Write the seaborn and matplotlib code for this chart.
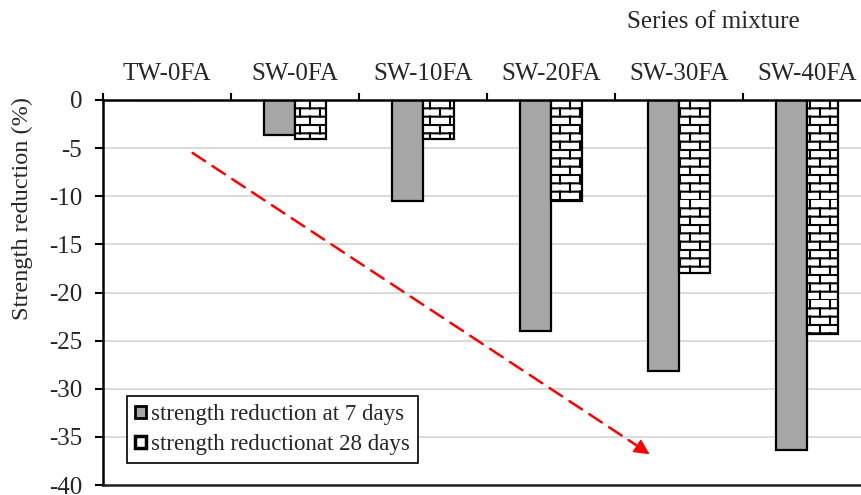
import warnings
import numpy as np
import pandas as pd
import matplotlib
matplotlib.use('Agg')
import matplotlib.pyplot as plt
import matplotlib.hatch as mhatch
from matplotlib.path import Path
from matplotlib.patches import Patch
import seaborn as sns

warnings.filterwarnings('ignore')

# data
mixtures = ['TW-0FA', 'SW-0FA', 'SW-10FA', 'SW-20FA', 'SW-30FA', 'SW-40FA']
red_7d = [0.0, -3.6, -10.5, -24.0, -28.2, -36.4]
red_28d = [0.0, -4.0, -4.1, -10.5, -18.0, -24.3]
series = ['strength reduction at 7 days', 'strength reductionat 28 days']


# brick hatch ('b') - staggered bricks
class BrickHatch(mhatch.HatchPatternBase):
    def __init__(self, hatch, density):
        self.rows = 12 if 'b' in hatch else 0
        self.cols = 5
        self.num_vertices = (self.rows + self.rows * (self.cols + 1)) * 2

    def set_vertices_and_codes(self, vertices, codes):
        v = []
        h = 1.0 / self.rows
        for k in range(self.rows):
            v += [(0.0, k * h), (1.0, k * h)]
            off = 0.0 if k % 2 == 0 else 0.5
            for j in range(self.cols + 1):
                x = (j + off) / self.cols
                v += [(x, k * h), (x, (k + 1) * h)]
        vertices[:] = np.array(v)
        codes[0::2] = Path.MOVETO
        codes[1::2] = Path.LINETO


mhatch._hatch_types.append(BrickHatch)

df = pd.DataFrame({
    'mixture': mixtures * 2,
    'value': red_7d + red_28d,
    'series': [series[0]] * len(mixtures) + [series[1]] * len(mixtures),
})

sns.set_style('white')
plt.rcParams['font.family'] = ['Liberation Serif', 'DejaVu Serif']
plt.rcParams['axes.unicode_minus'] = False
plt.rcParams['hatch.linewidth'] = 1.5
plt.rcParams['hatch.color'] = 'black'

fig = plt.figure(figsize=(8.61, 4.95), dpi=100)
ax = fig.add_axes([103 / 861, 10 / 495, 758 / 861, 385 / 495])

sns.barplot(data=df, x='mixture', y='value', hue='series', order=mixtures,
            palette={series[0]: '#a6a6a6', series[1]: 'white'},
            width=0.48, gap=0, edgecolor='black', linewidth=1.6,
            errorbar=None, legend=False, ax=ax)
for bar in ax.containers[1]:
    bar.set_hatch('b')

# x axis on top: ticks at category boundaries, labels at centres
ax.xaxis.tick_top()
ax.set_xticks(np.arange(-0.5, 6, 1))
ax.set_xticklabels([])
ax.set_xticks(np.arange(len(mixtures)), minor=True)
ax.set_xticklabels(mixtures, minor=True, fontsize=18)
ax.tick_params(axis='x', which='major', direction='out', length=5, width=1.5,
               top=True, bottom=False, color='black')
ax.tick_params(axis='x', which='minor', length=0, pad=11, top=True, bottom=False)
ax.tick_params(axis='y', direction='out', length=6, width=1.5, pad=9,
               labelsize=18, left=True, color='black')
ax.set_xlabel('')
ax.set_ylabel('')

ax.set_yticks(np.arange(-40, 1, 5))
ax.set_ylim(-40, 0)
ax.set_xlim(-0.5, -0.5 + 758 / 128.0)
ax.yaxis.grid(True, color='#d4d4d4', linewidth=1.2)
ax.set_axisbelow(True)

for s in ['top', 'left']:
    ax.spines[s].set_color('black')
    ax.spines[s].set_linewidth(1.8)
ax.spines['bottom'].set_color('#222222')
ax.spines['bottom'].set_linewidth(1.8)
ax.spines['right'].set_visible(False)

fig.text(22 / 861, 1 - 208 / 495, 'Strength reduction (%)', rotation=90,
         ha='center', va='center', fontsize=17.5)
fig.text(713 / 861, 1 - 22 / 495, 'Series of mixture', ha='center',
         va='center', fontsize=18)

# trend arrow: dashed shaft + solid head
ax.annotate('', xy=(3.66, -35.8), xytext=(0.2, -5.5),
            arrowprops=dict(arrowstyle='-', color='#ff0000', lw=1.8,
                            linestyle=(0, (6, 3.5)), shrinkA=0, shrinkB=0))
ax.annotate('', xy=(3.77, -36.8), xytext=(3.6, -35.3),
            arrowprops=dict(arrowstyle='-|>', color='#ff0000', lw=1.0,
                            mutation_scale=24, shrinkA=0, shrinkB=0))

handles = [Patch(facecolor='#a6a6a6', edgecolor='black', linewidth=2),
           Patch(facecolor='white', edgecolor='black', linewidth=2.5)]
leg = ax.legend(handles, series, loc='lower left',
                bbox_to_anchor=(0.032, 0.057), borderaxespad=0,
                fontsize=16.5, frameon=True, fancybox=False, framealpha=1,
                edgecolor='black', handlelength=0.45, handleheight=0.45,
                handletextpad=0.25, labelspacing=0.4, borderpad=0.35)
leg.get_frame().set_linewidth(1.2)

fig.savefig('out.png', dpi=100)
